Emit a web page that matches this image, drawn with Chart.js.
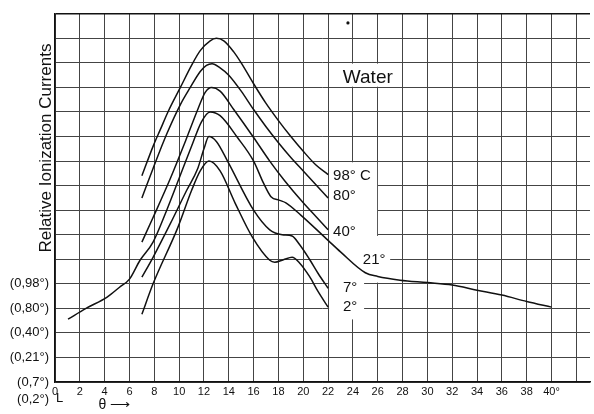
<!DOCTYPE html>
<html>
<head>
<meta charset="utf-8">
<script src="https://cdn.jsdelivr.net/npm/chart.js@4.4.0/dist/chart.umd.min.js"></script>
<style>
  html, body { margin: 0; padding: 0; background: #fff; }
  #wrap { width: 594px; height: 414px; }
</style>
</head>
<body>
<div id="wrap"><canvas id="myChart"></canvas></div>
<script>
// values: theta (deg) vs relative ionization current (grid units)
const theta98 = [7.0, 7.9, 8.5, 9.1, 10.1, 11.0, 11.7, 12.5, 13.0, 13.6, 14.4, 15.0, 16.0, 17.0, 18.0, 19.0, 20.0, 21.0, 22.0];
const curr98  = [8.4, 9.6, 10.3, 11.0, 12.0, 12.9, 13.5, 13.9, 14.0, 13.9, 13.45, 13.0, 12.15, 11.35, 10.65, 10.0, 9.4, 8.85, 8.45];

const theta80 = [7.0, 7.9, 9.0, 10.1, 10.9, 11.7, 12.2, 12.65, 13.3, 14.0, 15.0, 16.0, 17.0, 18.0, 19.0, 20.0, 21.0, 22.0];
const curr80  = [7.5, 8.7, 10.1, 11.3, 12.0, 12.65, 12.9, 12.97, 12.8, 12.5, 11.85, 11.1, 10.4, 9.75, 9.15, 8.6, 8.05, 7.5];

const theta40 = [7.0, 7.9, 9.3, 10.5, 11.5, 12.1, 12.6, 13.3, 14.4, 16.0, 17.3, 18.5, 20.0, 21.0, 22.0];
const curr40  = [5.7, 6.7, 8.3, 9.8, 11.1, 11.8, 12.0, 11.85, 11.1, 9.96, 9.0, 8.2, 7.3, 6.75, 6.2];

const theta21 = [1.05, 2.5, 4.2, 5.2, 6.0, 6.85, 7.9, 9.0, 10.0, 11.0, 11.8, 12.5, 13.3, 14.7, 16.0, 16.8, 17.4, 18.1, 18.6, 19.8, 22.0, 23.0, 25.0, 26.0, 27.8, 30.0, 32.0, 34.0, 36.0, 38.0, 40.0];
const curr21  = [2.56, 3.0, 3.46, 3.86, 4.19, 4.96, 5.7, 7.0, 8.3, 9.6, 10.6, 11.0, 10.85, 9.96, 9.0, 8.1, 7.55, 7.4, 7.3, 6.8, 5.77, 5.3, 4.45, 4.3, 4.15, 4.05, 3.95, 3.74, 3.54, 3.28, 3.05];

const theta7 = [7.0, 7.9, 9.3, 10.6, 11.5, 12.0, 12.4, 13.0, 13.9, 16.0, 17.3, 18.3, 19.1, 19.7, 20.5, 21.2, 22.0];
const curr7  = [4.27, 5.08, 6.46, 7.8, 8.7, 9.5, 10.0, 9.8, 9.0, 7.0, 6.2, 6.0, 5.95, 5.6, 5.0, 4.42, 3.82];

const theta2 = [7.0, 7.9, 9.9, 11.0, 11.7, 12.4, 13.3, 14.5, 15.9, 17.3, 17.7, 18.4, 19.1, 19.7, 20.5, 21.2, 22.0];
const curr2  = [2.76, 4.0, 6.3, 7.8, 8.6, 9.0, 8.6, 7.3, 5.9, 4.96, 4.88, 4.98, 5.08, 4.85, 4.3, 3.68, 3.05];

const yTickLabels = ["(0,7°)", "(0,21°)", "(0,40°)", "(0,80°)", "(0,98°)"];
const curveLabels = ["98° C", "80°", "40°", "21°", "7°", "2°"];

const pts = (xs, ys) => xs.map((x, i) => ({ x: x, y: ys[i] }));
const curves = [[theta98, curr98], [theta80, curr80], [theta40, curr40], [theta21, curr21], [theta7, curr7], [theta2, curr2]];

const ink = '#111';
const gridCol = '#444';
const font = '"Liberation Sans", Arial, sans-serif';

// white patches where the original figure blanks the grid behind its labels (data units)
const blanks = [
  [22.08, 12.97, 27.9, 12.03],
  [22.08, 8.95, 25.95, 5.9],
  [22.08, 5.95, 27.0, 4.05],
  [22.08, 4.1, 24.9, 2.55]
];

const decor = {
  id: 'decor',
  beforeDatasetsDraw(chart) {
    const { ctx, scales: { x, y } } = chart;
    ctx.save();
    ctx.fillStyle = '#fff';
    blanks.forEach(b => {
      const x0 = x.getPixelForValue(b[0]), y0 = y.getPixelForValue(b[1]);
      const x1 = x.getPixelForValue(b[2]), y1 = y.getPixelForValue(b[3]);
      ctx.fillRect(x0, y0, x1 - x0, y1 - y0);
    });
    ctx.restore();
  },
  afterDraw(chart) {
    const { ctx, scales: { x, y } } = chart;
    ctx.save();
    ctx.fillStyle = ink;
    ctx.textBaseline = 'middle';

    // curve labels
    ctx.font = '15px ' + font;
    ctx.textAlign = 'left';
    const spots = [[22.4, 8.4], [22.4, 7.6], [22.4, 6.1], [24.8, 4.96], [23.2, 3.82], [23.2, 3.05]];
    curveLabels.forEach((t, i) => ctx.fillText(t, x.getPixelForValue(spots[i][0]), y.getPixelForValue(spots[i][1])));

    ctx.font = '19px ' + font;
    ctx.textAlign = 'center';
    ctx.fillText('Water', x.getPixelForValue(25.2), y.getPixelForValue(12.4));

    // stray dot in the upper grid
    ctx.beginPath();
    ctx.arc(x.getPixelForValue(23.6), y.getPixelForValue(14.63), 1.6, 0, Math.PI * 2);
    ctx.fill();

    // extra baseline label under the axis
    ctx.font = '13px ' + font;
    ctx.textAlign = 'right';
    ctx.fillText('(0,2°)', x.left - 6, y.getPixelForValue(-0.73));
    ctx.textAlign = 'left';
    ctx.fillText('L', x.left + 1, y.getPixelForValue(-0.68));

    ctx.font = '14px ' + font;
    ctx.fillText('θ ⟶', x.getPixelForValue(3.5), y.getPixelForValue(-0.95));

    // y axis title
    ctx.font = '17px ' + font;
    ctx.translate(46, 148);
    ctx.rotate(-Math.PI / 2);
    ctx.textAlign = 'center';
    ctx.fillText('Relative Ionization Currents', 0, 0);
    ctx.restore();
  }
};

new Chart(document.getElementById('myChart'), {
  type: 'line',
  data: {
    datasets: curves.map(c => ({
      data: pts(c[0], c[1]),
      borderColor: ink,
      borderWidth: 1.5,
      pointRadius: 0,
      fill: false,
      cubicInterpolationMode: 'monotone'
    }))
  },
  options: {
    responsive: true,
    maintainAspectRatio: false,
    animation: false,
    layout: { padding: { top: 13, right: 4, left: 0, bottom: 0 } },
    plugins: { legend: { display: false }, tooltip: { enabled: false } },
    scales: {
      x: {
        type: 'linear',
        min: 0,
        max: 43.1,
        afterFit: s => { s.height = 32; },
        ticks: {
          stepSize: 2,
          includeBounds: false,
          autoSkip: false,
          maxRotation: 0,
          padding: 3,
          color: ink,
          font: { size: 11, family: font },
          callback: v => v === 40 ? '40°' : (v <= 38 ? String(v) : '')
        },
        grid: { color: gridCol, lineWidth: 1, drawTicks: false },
        border: { color: ink, width: 1.5 }
      },
      y: {
        min: 0,
        max: 15,
        afterFit: s => { s.width = 55; },
        ticks: {
          stepSize: 1,
          autoSkip: false,
          padding: 6,
          color: ink,
          font: { size: 13, family: font },
          callback: v => yTickLabels[v] || ''
        },
        grid: {
          color: c => c.tick && c.tick.value === 15 ? ink : gridCol,
          lineWidth: c => c.tick && c.tick.value === 15 ? 1.5 : 1,
          drawTicks: false
        },
        border: { color: ink, width: 1.5 }
      }
    }
  },
  plugins: [decor]
});
</script>
</body>
</html>
